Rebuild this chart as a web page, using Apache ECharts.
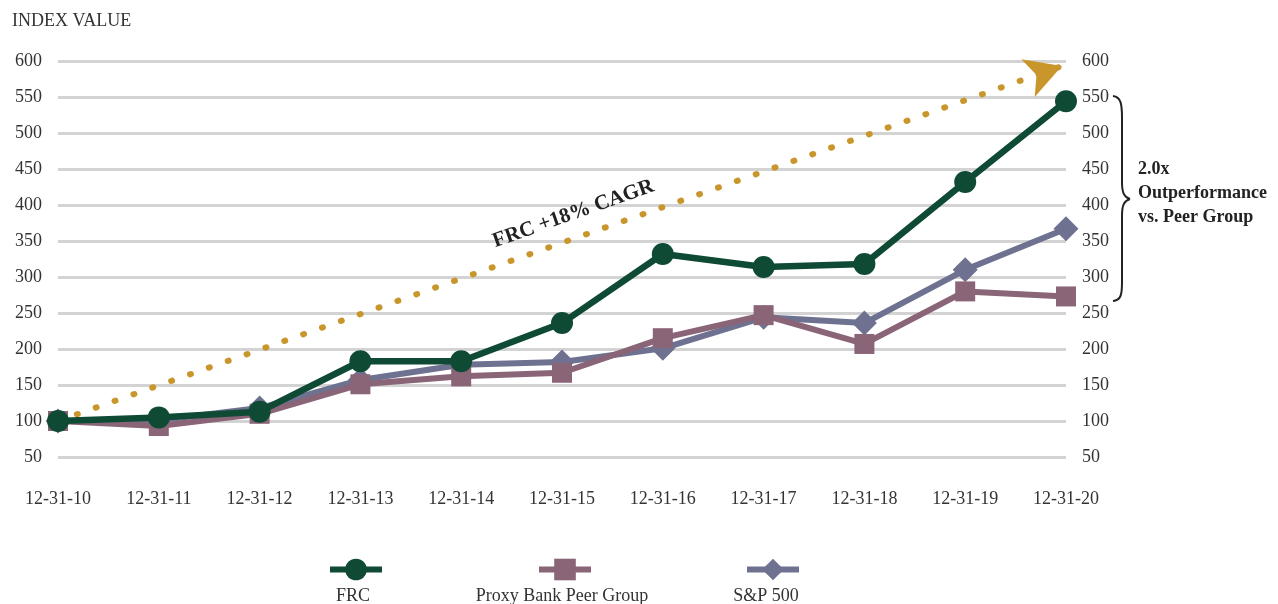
<!DOCTYPE html>
<html><head><meta charset="utf-8">
<script src="https://cdn.jsdelivr.net/npm/echarts@6/dist/echarts.min.js"></script>
<style>html,body{margin:0;padding:0;background:#fff}#c{width:1278px;height:604px}</style>
</head><body><div id="c"></div>
<script>
const categories = ['12-31-10','12-31-11','12-31-12','12-31-13','12-31-14','12-31-15','12-31-16','12-31-17','12-31-18','12-31-19','12-31-20'];
const frc = [100, 105, 113, 183, 183, 236, 332, 314, 318, 432, 544];
const peer = [100, 93, 110, 151, 162, 167, 215, 247, 207, 280, 273];
const sp500 = [100, 101, 118, 157, 178, 182, 201, 244, 236, 310, 367];
const cagrStart = [0, 100];
const cagrEnd = [9.96, 593];
const yTicks = {min: 50, max: 600, interval: 50};

const FONT = '"Liberation Serif", "DejaVu Serif", serif';
const chart = echarts.init(document.getElementById('c'));
const labelStyle = {fontFamily: FONT, fontSize: 18, color: '#333'};
const legendBase = (name, left) => ({
  data: [name], left: left, top: 551, itemWidth: 52, itemHeight: 27,
  lineStyle: {width: 6}, formatter: () => '', selectedMode: false
});
const bez = (x1, y1, c1x, c1y, c2x, c2y, x2, y2) => ({
  type: 'bezierCurve',
  shape: {x1: x1, y1: y1, cpx1: c1x, cpy1: c1y, cpx2: c2x, cpy2: c2y, x2: x2, y2: y2},
  style: {stroke: '#222', lineWidth: 2, fill: null}
});
chart.setOption({
  animation: false,
  grid: {left: 58, right: 212, top: 61, bottom: 147},
  xAxis: [
    {type: 'category', data: categories, boundaryGap: false,
     axisLine: {show: false}, axisTick: {show: false},
     axisLabel: Object.assign({margin: 33}, labelStyle)},
    {type: 'value', min: 0, max: 10, show: false}
  ],
  yAxis: [
    Object.assign({type: 'value', position: 'left',
      axisLine: {show: false}, axisTick: {show: false},
      axisLabel: Object.assign({margin: 16}, labelStyle),
      splitLine: {lineStyle: {color: '#D3D3D3', width: 3}}}, yTicks),
    Object.assign({type: 'value', position: 'right',
      axisLine: {show: false}, axisTick: {show: false},
      axisLabel: Object.assign({margin: 16}, labelStyle),
      splitLine: {show: false}}, yTicks)
  ],
  legend: [
    legendBase('FRC', 322),
    legendBase('Proxy Bank Peer Group', 531),
    legendBase('S&P 500', 739)
  ],
  series: [
    {name: 'CAGR', type: 'line', xAxisIndex: 1, yAxisIndex: 0, data: [], silent: true,
     markLine: {silent: true, symbol: ['none', 'arrow'], symbolSize: [30, 36],
       lineStyle: {type: [1, 19], cap: 'round', width: 6, color: '#C9962C'},
       label: {show: true, formatter: 'FRC +18% CAGR', position: 'insideMiddleTop', distance: 13,
         padding: [0, 0, 0, 45],
         fontFamily: FONT, fontSize: 21, fontWeight: 'bold', color: '#222'},
       data: [[{coord: cagrStart}, {coord: cagrEnd}]]}},
    {name: 'S&P 500', type: 'line', data: sp500, color: '#6E7290',
     symbol: 'diamond', symbolSize: 25, lineStyle: {width: 6}, z: 3},
    {name: 'Proxy Bank Peer Group', type: 'line', data: peer, color: '#8A6477',
     symbol: 'rect', symbolSize: 20, lineStyle: {width: 6}, z: 4},
    {name: 'FRC', type: 'line', data: frc, color: '#0F4A35',
     symbol: 'circle', symbolSize: 22, lineStyle: {width: 6.5}, z: 5}
  ],
  graphic: [
    {type: 'text', left: 12, top: 12, style: {text: 'INDEX VALUE', font: '18px ' + FONT, fill: '#333'}},
    bez(1113, 96, 1121, 97, 1122, 104, 1122, 118),
    {type: 'line', shape: {x1: 1122, y1: 118, x2: 1122, y2: 182}, style: {stroke: '#222', lineWidth: 2}},
    bez(1122, 182, 1122, 193, 1124, 197, 1130, 199),
    bez(1130, 199, 1124, 201, 1122, 205, 1122, 216),
    {type: 'line', shape: {x1: 1122, y1: 216, x2: 1122, y2: 282}, style: {stroke: '#222', lineWidth: 2}},
    bez(1122, 282, 1122, 295, 1121, 300, 1113, 301),
    {type: 'text', left: 1138, top: 157, style: {text: '2.0x\nOutperformance\nvs. Peer Group', font: 'bold 18px ' + FONT, fill: '#222', lineHeight: 24}},
    {type: 'text', x: 353, y: 596, style: {text: 'FRC', font: '18px ' + FONT, fill: '#333', align: 'center', verticalAlign: 'middle'}},
    {type: 'text', x: 562, y: 596, style: {text: 'Proxy Bank Peer Group', font: '18px ' + FONT, fill: '#333', align: 'center', verticalAlign: 'middle'}},
    {type: 'text', x: 766, y: 596, style: {text: 'S&P 500', font: '18px ' + FONT, fill: '#333', align: 'center', verticalAlign: 'middle'}}
  ]
});
</script></body></html>
